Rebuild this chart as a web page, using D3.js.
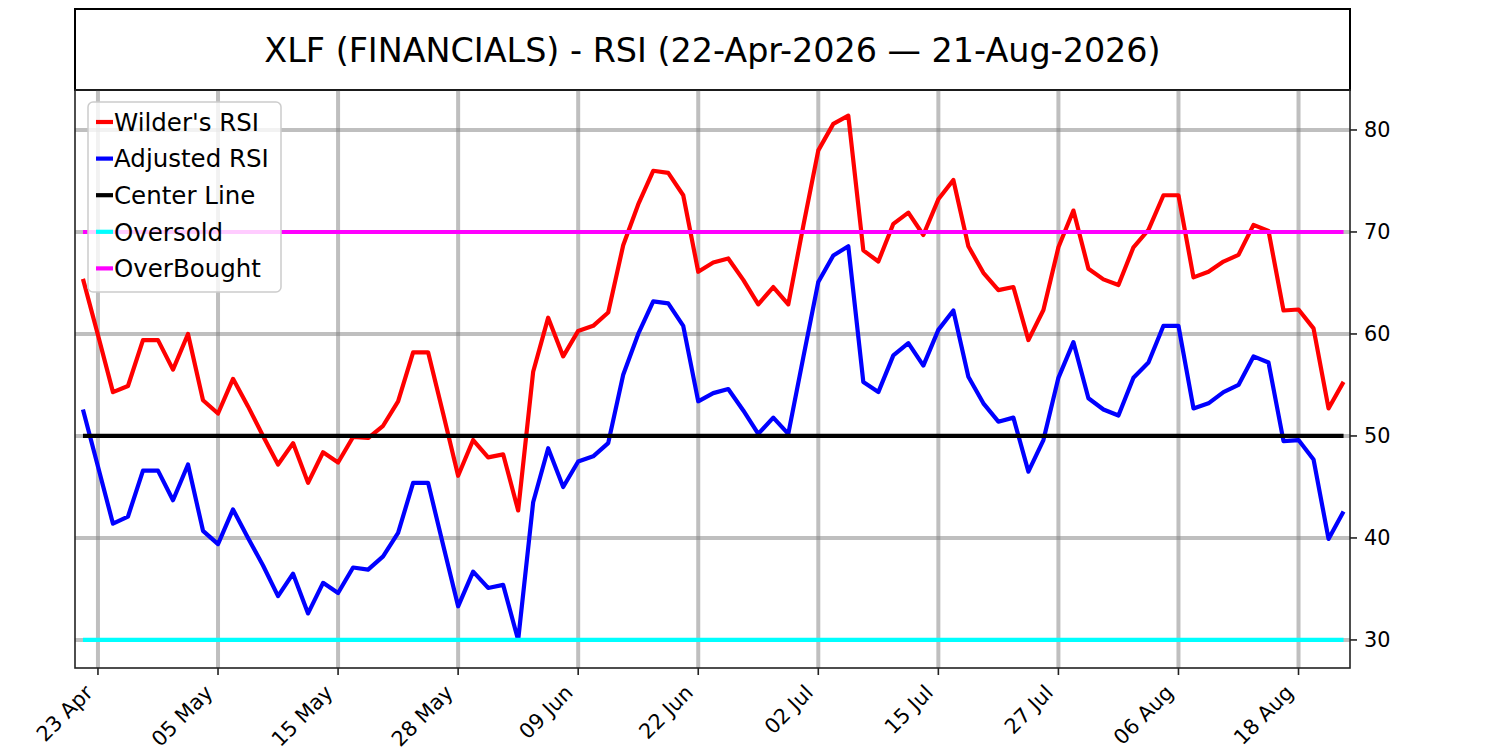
<!DOCTYPE html>
<html>
<head>
<meta charset="utf-8">
<script src="https://cdnjs.cloudflare.com/ajax/libs/d3/7.8.5/d3.min.js"></script>
<style>
  body { margin: 0; background: #fff; }
  text { font-family: "DejaVu Sans", sans-serif; }
</style>
</head>
<body>
<div id="chart"></div>
<script>
// values, one per trading day 22-Apr-2026 .. 21-Aug-2026
var wilderRSI = [65.4, 59.9, 54.3, 54.9, 59.4, 59.4, 56.5, 60.0, 53.5, 52.2,
  55.6, 52.9, 50.0, 47.2, 49.3, 45.4, 48.4, 47.4, 49.9, 49.8,
  51.0, 53.4, 58.2, 58.2, 52.2, 46.1, 49.6, 47.9, 48.2, 42.7,
  56.3, 61.6, 57.8, 60.3, 60.8, 62.1, 68.7, 72.7, 76.0, 75.8,
  73.6, 66.1, 67.0, 67.4, 65.3, 62.9, 64.6, 62.9, 70.6, 78.0,
  80.6, 81.4, 68.2, 67.1, 70.8, 71.9, 69.7, 73.2, 75.1, 68.6,
  66.0, 64.3, 64.6, 59.4, 62.35, 68.5, 72.1, 66.4, 65.35, 64.8,
  68.5, 70.2, 73.6, 73.6, 65.55, 66.1, 67.1, 67.75, 70.7, 70.1,
  62.3, 62.4, 60.55, 52.7, 55.3];
var adjustedRSI = [52.6, 47.0, 41.4, 42.1, 46.6, 46.6, 43.7, 47.2, 40.7, 39.4,
  42.8, 40.0, 37.3, 34.3, 36.5, 32.6, 35.6, 34.6, 37.1, 36.9,
  38.2, 40.5, 45.4, 45.4, 39.3, 33.3, 36.7, 35.1, 35.4, 30.0,
  43.5, 48.8, 45.0, 47.5, 48.0, 49.3, 56.0, 60.0, 63.2, 63.0,
  60.8, 53.4, 54.2, 54.6, 52.5, 50.2, 51.8, 50.2, 57.7, 65.1,
  67.7, 68.6, 55.3, 54.3, 57.9, 59.1, 56.9, 60.4, 62.3, 55.8,
  53.2, 51.4, 51.8, 46.5, 49.6, 55.7, 59.2, 53.7, 52.6, 52.0,
  55.7, 57.2, 60.8, 60.8, 52.7, 53.2, 54.3, 55.0, 57.8, 57.2,
  49.5, 49.6, 47.7, 39.9, 42.6];
var centerLevel = 50, oversoldLevel = 30, overboughtLevel = 70;
var tickIndex = [1, 9, 17, 25, 33, 41, 49, 57, 65, 73, 81];
var tickLabels = ["23 Apr", "05 May", "15 May", "28 May", "09 Jun", "22 Jun",
  "02 Jul", "15 Jul", "27 Jul", "06 Aug", "18 Aug"];
var yTicks = [30, 40, 50, 60, 70, 80];
var titleText = "XLF (FINANCIALS) - RSI (22-Apr-2026 \u2014 21-Aug-2026)";

var W = 1500, H = 750;
var plotL = 75, plotR = 1350, plotT = 90, plotB = 668;

var svg = d3.select("#chart").append("svg").attr("width", W).attr("height", H);

var n = wilderRSI.length;
var x = d3.scaleLinear().domain([-0.53, n - 1 + 0.43]).range([plotL, plotR]);
var y = d3.scaleLinear().domain([27.25, 83.92]).range([plotB, plotT]);

// title box
svg.append("rect").attr("x", plotL).attr("y", 9).attr("width", plotR - plotL).attr("height", plotT - 9)
  .attr("fill", "white").attr("stroke", "black").attr("stroke-width", 2);
svg.append("text").attr("x", (plotL + plotR) / 2).attr("y", 62)
  .attr("text-anchor", "middle").attr("font-size", 33.4).text(titleText);

// grid
var g = svg.append("g");
g.selectAll(".vg").data(tickIndex).enter().append("line")
  .attr("x1", d => x(d)).attr("x2", d => x(d)).attr("y1", plotT).attr("y2", plotB)
  .attr("stroke", "gray").attr("stroke-opacity", 0.5).attr("stroke-width", 4);
g.selectAll(".hg").data(yTicks).enter().append("line")
  .attr("x1", plotL).attr("x2", plotR).attr("y1", d => y(d)).attr("y2", d => y(d))
  .attr("stroke", "gray").attr("stroke-opacity", 0.5).attr("stroke-width", 4);

// series
var series = [
  { name: "Wilder's RSI", color: "red", values: wilderRSI },
  { name: "Adjusted RSI", color: "blue", values: adjustedRSI },
  { name: "Center Line", color: "black", values: wilderRSI.map(() => centerLevel) },
  { name: "Oversold", color: "cyan", values: wilderRSI.map(() => oversoldLevel) },
  { name: "OverBought", color: "magenta", values: wilderRSI.map(() => overboughtLevel) }
];
var line = d3.line().x((d, i) => x(i)).y(d => y(d));
svg.selectAll(".series").data(series).enter().append("path")
  .attr("d", d => line(d.values)).attr("fill", "none")
  .attr("stroke", d => d.color).attr("stroke-width", 4.2)
  .attr("stroke-linejoin", "round");

// frame
svg.append("rect").attr("x", plotL).attr("y", plotT).attr("width", plotR - plotL).attr("height", plotB - plotT)
  .attr("fill", "none").attr("stroke", "#222").attr("stroke-width", 1.6);

// x axis
var xAxis = svg.append("g").attr("transform", "translate(0," + plotB + ")");
xAxis.selectAll("line").data(tickIndex).enter().append("line")
  .attr("x1", d => x(d)).attr("x2", d => x(d)).attr("y1", 0).attr("y2", 7)
  .attr("stroke", "#222").attr("stroke-width", 1.6);
xAxis.selectAll("text").data(tickIndex).enter().append("text")
  .attr("transform", d => "translate(" + (x(d) - 4) + ",26) rotate(-45)")
  .attr("text-anchor", "end").attr("font-size", 20.8).attr("fill", "black")
  .text((d, i) => tickLabels[i]);

// right y axis
var yAxis = svg.append("g").attr("transform", "translate(" + plotR + ",0)");
yAxis.selectAll("line").data(yTicks).enter().append("line")
  .attr("x1", 0).attr("x2", 7).attr("y1", d => y(d)).attr("y2", d => y(d))
  .attr("stroke", "#222").attr("stroke-width", 1.6);
yAxis.selectAll("text").data(yTicks).enter().append("text")
  .attr("x", 14).attr("y", d => y(d)).attr("dy", "0.36em")
  .attr("font-size", 20.8).attr("fill", "black").text(d => d);

// legend
var lg = svg.append("g").attr("transform", "translate(88,102)");
lg.append("rect").attr("width", 193).attr("height", 190).attr("rx", 5)
  .attr("fill", "white").attr("fill-opacity", 0.8).attr("stroke", "#ccc").attr("stroke-width", 1.5);
var item = lg.selectAll(".item").data(series).enter().append("g")
  .attr("transform", (d, i) => "translate(0," + (20 + i * 36.6) + ")");
item.append("line").attr("x1", 8).attr("x2", 25).attr("y1", 0).attr("y2", 0)
  .attr("stroke", d => d.color).attr("stroke-width", 4.2);
item.append("text").attr("x", 26).attr("y", 0).attr("dy", "0.36em")
  .attr("font-size", 24.5).text(d => d.name);
</script>
</body>
</html>
